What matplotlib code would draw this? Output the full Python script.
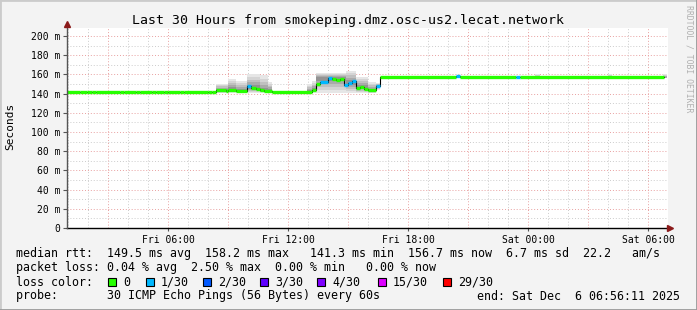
import matplotlib
matplotlib.use("Agg")
import matplotlib.pyplot as plt
from matplotlib.patches import Rectangle
from matplotlib.lines import Line2D
import numpy as np
from datetime import datetime, timedelta

# time window (hours since start)
start = datetime(2025, 12, 5, 0, 56, 11)
end_hour = 29.85

# median rtt (ms), step segments starting at med_hours
med_hours = [0.0, 0.65, 1.0, 1.25, 1.45, 2.65, 2.85, 3.45, 3.65, 4.25, 4.45, 4.85, 5.05,
             5.65, 5.85, 7.05, 7.25, 7.45, 7.95, 8.05, 8.45, 9.0, 9.2, 9.45, 9.65, 9.85,
             10.25, 12.25, 12.45, 12.65, 13.05, 13.25, 13.45, 13.65, 13.85, 14.05, 14.25,
             14.45, 14.65, 14.85, 15.05, 15.45, 15.65, 19.45, 19.65, 22.45, 22.65]
med_values = [142, 141.2, 142, 141.2, 142, 141.2, 142, 141.2, 142, 141.2, 142, 141.2, 142,
              141.2, 142, 141.2, 142, 143.4, 142.5, 144.2, 142.8, 148, 146, 144.5, 143.7, 142.6,
              142, 144, 150, 152, 156, 155, 154, 155.5, 148.5, 151.5, 153,
              145.5, 146.5, 144.5, 143.3, 148, 157, 158.5, 157, 157, 157]
med_loss = [0, 0, 0, 0, 0, 0, 0, 0, 0, 0, 0, 0, 0,
            0, 0, 0, 0, 0, 0, 0, 0, 1, 0, 0, 0, 0,
            0, 0, 0, 1, 1, 0, 0, 0, 1, 1, 1,
            0, 0, 0, 0, 1, 0, 1, 0, 1, 0]

# smoke (spread of the pings)
smoke_start = [7.45, 8.05, 8.45, 9.0, 9.65, 10.05, 12.0, 12.25, 12.45, 13.95, 14.45, 15.05, 15.45,
               23.4, 27.05, 29.8]
smoke_end = [8.05, 8.45, 9.0, 9.65, 10.05, 10.25, 12.25, 12.45, 13.95, 14.45, 15.05, 15.45, 15.65,
             23.65, 27.25, 30.0]
smoke_hi = [150.5, 155.5, 153, 160, 159, 152, 150, 153, 161.5, 164, 157, 152, 151,
            160, 160, 160]
smoke_lo = [140.5, 141, 141, 141, 141, 141, 140.5, 141, 141, 141, 141, 140.5, 144,
            156, 156, 156]

loss_labels = ["0", "1/30", "2/30", "3/30", "4/30", "15/30", "29/30"]
loss_colors = ["#26ff00", "#00b8ff", "#0059ff", "#5e00ff", "#7e00ff", "#dd00ff", "#ff0000"]

y_ticks = [0, 20, 40, 60, 80, 100, 120, 140, 160, 180, 200]
y_labels = ["0", "20 m", "40 m", "60 m", "80 m", "100 m", "120 m", "140 m", "160 m", "180 m", "200 m"]
x_label_times = [datetime(2025, 12, 5, 6), datetime(2025, 12, 5, 12), datetime(2025, 12, 5, 18),
                 datetime(2025, 12, 6, 0), datetime(2025, 12, 6, 6)]
x_labels = ["Fri 06:00", "Fri 12:00", "Fri 18:00", "Sat 00:00", "Sat 06:00"]

W, H = 697, 310
mono = "DejaVu Sans Mono"
plt.rcParams["font.family"] = mono

fig = plt.figure(figsize=(W / 100, H / 100), dpi=100, facecolor="#f3f3f3")
ax = fig.add_axes([67 / W, 1 - 228 / H, 601 / W, 200 / H])
ax.set_facecolor("white")
xmax = 30.05
ymax = 200 / 0.96
ax.set_xlim(0, xmax)
ax.set_ylim(0, ymax)


def hours(t):
    return (t - start).total_seconds() / 3600.0


# grid: gray every hour / 10 ms, red every 3 hours / 20 ms
first_hour = datetime(2025, 12, 5, 1)
for i in range(30):
    t = first_hour + timedelta(hours=i)
    col = "#e8a0a0" if t.hour % 3 == 0 else "#cccccc"
    ax.axvline(hours(t), color=col, lw=0.7, ls=(0, (1, 2)), zorder=1)
for v in range(10, 210, 10):
    col = "#e8a0a0" if v % 20 == 0 else "#cccccc"
    ax.axhline(v, color=col, lw=0.7, ls=(0, (1, 2)), zorder=1)

# smoke
shades = ["#e6e6e6", "#d4d4d4", "#c0c0c0", "#aaaaaa", "#939393"]
fracs = [1.0, 0.8, 0.6, 0.4, 0.2]
for s, e, hi, lo in zip(smoke_start, smoke_end, smoke_hi, smoke_lo):
    idx = np.searchsorted(med_hours, (s + e) / 2, side="right") - 1
    m = min(max(med_values[idx], lo), hi)
    for f, c in zip(fracs, shades):
        ax.fill_between([s, e], m - (m - lo) * f, m + (hi - m) * f, color=c, lw=0, zorder=2)

# median line
xs = med_hours + [end_hour]
ys = med_values + [med_values[-1]]
ax.step(xs, ys, where="post", color="black", lw=0.8, zorder=3)
seg_end = med_hours[1:] + [end_hour]
for s, e, v, l in zip(med_hours, seg_end, med_values, med_loss):
    ax.hlines(v, s, e, color=loss_colors[l], lw=2.4, zorder=4)

# axes
for sp in ax.spines.values():
    sp.set_visible(False)
ax.plot([0, 30.15], [0, 0], color="black", lw=1, clip_on=False, zorder=5)
ax.plot([0, 0], [0, 212], color="#555555", lw=1, clip_on=False, zorder=5)
ax.plot([30.15], [0], marker=">", color="#8b1a1a", ms=4, clip_on=False, zorder=6)
ax.plot([0], [212], marker="^", color="#8b1a1a", ms=4, clip_on=False, zorder=6)

ax.set_yticks(y_ticks)
ax.set_yticklabels(y_labels)
ax.set_xticks([hours(t) for t in x_label_times])
ax.set_xticklabels(x_labels)
ax.tick_params(axis="y", length=3, width=0.8, pad=2, labelsize=7, color="#555555")
ax.tick_params(axis="x", length=2, width=0.8, pad=3, labelsize=7, color="#555555")

# texts
fig.text(0.5, 1 - 24 / H, "Last 30 Hours from smokeping.dmz.osc-us2.lecat.network",
         ha="center", va="baseline", fontsize=9.5, family=mono)
fig.text(10.5 / W, 1 - 126 / H, "Seconds", rotation=90, ha="center", va="center",
         fontsize=8, family=mono)
fig.text(689 / W, 1 - 5 / H, "RRDTOOL / TOBI OETIKER", rotation=270, ha="center", va="top",
         fontsize=5.9, family=mono, color="#b0b0b0")

fs = 8.4
line1 = "median rtt:  149.5 ms avg  158.2 ms max   141.3 ms min  156.7 ms now  6.7 ms sd  22.2   am/s"
line2 = "packet loss: 0.04 % avg  2.50 % max  0.00 % min   0.00 % now"
line4 = "probe:       30 ICMP Echo Pings (56 Bytes) every 60s"
fig.text(16 / W, 1 - 257.5 / H, line1, ha="left", va="baseline", fontsize=fs, family=mono)
fig.text(16 / W, 1 - 271.5 / H, line2, ha="left", va="baseline", fontsize=fs, family=mono)
fig.text(16 / W, 1 - 285.5 / H, "loss color:", ha="left", va="baseline", fontsize=fs, family=mono)
fig.text(16 / W, 1 - 299.5 / H, line4, ha="left", va="baseline", fontsize=fs, family=mono)
fig.text(680 / W, 1 - 299.5 / H, "end: Sat Dec  6 06:56:11 2025", ha="right", va="baseline",
         fontsize=fs, family=mono)

box_x = [108, 146, 203, 260, 317, 378, 443]
for bx, lab, c in zip(box_x, loss_labels, loss_colors):
    fig.add_artist(Rectangle((bx / W, 1 - 286 / H), 8 / W, 8 / H, transform=fig.transFigure,
                             facecolor=c, edgecolor="black", lw=0.8))
    fig.text((bx + 15) / W, 1 - 285.5 / H, lab, ha="left", va="baseline", fontsize=fs, family=mono)

# frame shading
fig.add_artist(Line2D([0, 0], [0, 1], transform=fig.transFigure, color="#cbcbcb", lw=2))
fig.add_artist(Line2D([0, 1], [1, 1], transform=fig.transFigure, color="#cbcbcb", lw=2))
fig.add_artist(Line2D([1, 1], [0, 1], transform=fig.transFigure, color="#999999", lw=2))
fig.add_artist(Line2D([0, 1], [0, 0], transform=fig.transFigure, color="#999999", lw=2))

fig.savefig("out.png", dpi=100, facecolor=fig.get_facecolor())
